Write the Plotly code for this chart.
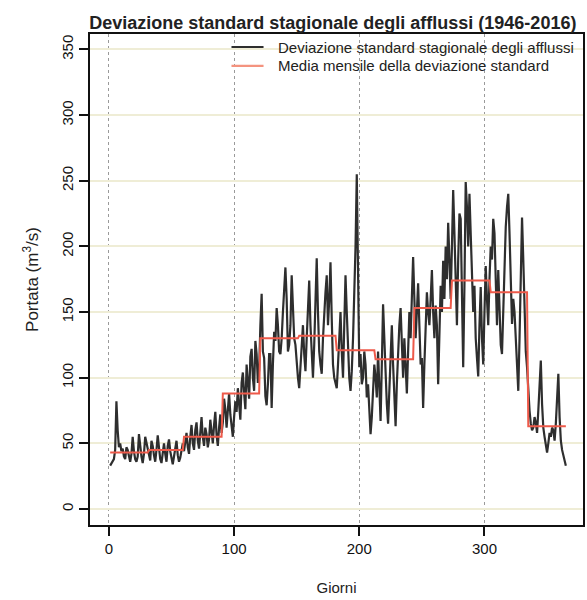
import numpy as np
import plotly.graph_objects as go

# Daily seasonal standard deviation
jan = [33, 35, 37, 38, 45, 82, 60, 47, 50, 44, 46, 40, 38, 47, 45, 40, 36, 42, 55, 44, 38, 36, 40, 57, 46, 40, 35, 42, 55, 50, 44]
feb = [40, 37, 52, 48, 41, 36, 45, 56, 47, 38, 35, 43, 50, 42, 36, 48, 53, 44, 37, 34, 40, 47, 52, 41, 36, 39, 46, 50]
mar = [44, 52, 58, 47, 42, 55, 64, 50, 45, 60, 66, 52, 46, 58, 70, 55, 48, 62, 57, 47, 53, 68, 60, 50, 64, 74, 56, 48, 62, 72, 58]
apr = [66, 84, 76, 62, 78, 88, 72, 60, 55, 70, 82, 74, 92, 80, 68, 96, 104, 88, 76, 110, 98, 84, 116, 122, 100, 90, 128, 118, 96, 106]
may = [140, 164, 120, 115, 86, 79, 95, 118, 118, 77, 110, 135, 128, 153, 140, 120, 118, 130, 150, 165, 184, 160, 120, 125, 140, 178, 150, 130, 125, 108, 100]
jun = [92, 110, 125, 140, 118, 105, 130, 150, 174, 140, 115, 100, 125, 160, 191, 150, 120, 110, 103, 130, 150, 165, 178, 140, 160, 188, 145, 110, 100, 95]
jul = [92, 110, 130, 150, 120, 100, 140, 178, 150, 120, 100, 90, 105, 130, 160, 200, 255, 170, 108, 118, 95, 100, 120, 110, 85, 95, 75, 57, 70, 90, 110]
aug = [100, 85, 120, 90, 67, 110, 156, 130, 100, 80, 65, 90, 120, 140, 110, 85, 63, 95, 125, 140, 153, 120, 100, 130, 110, 88, 120, 150, 130, 160, 192]
sep = [160, 130, 150, 172, 140, 110, 115, 77, 110, 140, 165, 150, 140, 160, 182, 150, 130, 155, 140, 95, 140, 170, 150, 189, 160, 200, 175, 218, 190, 160]
oct_ = [200, 243, 210, 170, 140, 190, 225, 221, 160, 108, 170, 249, 230, 200, 240, 214, 180, 150, 170, 130, 115, 101, 140, 169, 130, 110, 150, 185, 160, 140, 175]
nov = [200, 190, 221, 210, 160, 140, 182, 150, 125, 118, 150, 190, 215, 230, 240, 210, 170, 141, 160, 150, 130, 110, 90, 130, 180, 222, 190, 150, 120, 108]
dec = [90, 75, 65, 60, 62, 70, 66, 58, 75, 95, 113, 80, 62, 55, 48, 43, 50, 58, 55, 62, 60, 52, 65, 85, 103, 70, 52, 45, 40, 36, 33]

months = [jan, feb, mar, apr, may, jun, jul, aug, sep, oct_, nov, dec]
# Monthly mean of the standard deviation (red step line)
monthly_mean = [43, 45, 55, 88, 130, 132, 121, 114, 153, 174, 165, 63]

series_names = ["Deviazione standard stagionale degli afflussi",
                "Media mensile della deviazione standard"]
series_colors = ["#2e2e2e", "#ee5a4a"]

daily = np.concatenate([np.array(m, dtype=float) for m in months])
days = np.arange(1, len(daily) + 1)
month_len = [len(m) for m in months]
mean_daily = np.repeat(np.array(monthly_mean, dtype=float), month_len)

fig = go.Figure()
fig.add_trace(go.Scatter(
    x=days, y=daily, mode="lines",
    line=dict(color=series_colors[0], width=2.2),
    name=series_names[0], showlegend=False))
fig.add_trace(go.Scatter(
    x=days, y=mean_daily, mode="lines",
    line=dict(color=series_colors[1], width=2),
    name=series_names[1], showlegend=False))

# orange dotted reference lines seen on the scan
for yv in [0, 250]:
    fig.add_shape(type="line", xref="paper", x0=0, x1=1, yref="y", y0=yv, y1=yv,
                  line=dict(color="#f2ad80", width=1.3, dash="dot"), layer="below")

# legend drawn as line samples + text (R-style, no box)
leg_rows_y = [0.9735, 0.935]
leg_colors = [series_colors[0], "#f4937f"]
for name, col, yy in zip(series_names, leg_colors, leg_rows_y):
    fig.add_shape(type="line", xref="paper", yref="paper",
                  x0=0.287, x1=0.352, y0=yy, y1=yy,
                  line=dict(color=col, width=2.2))
    fig.add_annotation(xref="paper", yref="paper", x=0.378, y=yy,
                       xanchor="left", yanchor="middle", showarrow=False,
                       text=name, font=dict(size=15, color="#222"))

fig.update_layout(
    width=587, height=600,
    margin=dict(l=90, r=2, t=34, b=75),
    paper_bgcolor="white", plot_bgcolor="white",
    font=dict(family="Liberation Sans, Arial, sans-serif", color="#222", size=14),
    title=dict(text="<b>Deviazione standard stagionale degli afflussi (1946-2016)</b>",
               x=0.567, xanchor="center", y=0.963, yanchor="middle",
               font=dict(size=18, color="#222")),
    showlegend=False,
)
fig.update_xaxes(
    range=[-15.1, 378.7], tickvals=[0, 100, 200, 300],
    showline=True, linecolor="#111", linewidth=2, mirror=True,
    ticks="outside", ticklen=9, tickwidth=2, tickcolor="#111",
    showgrid=True, gridcolor="#9a9a9a", griddash="dot", gridwidth=1,
    zeroline=False,
    title=dict(text="Giorni", font=dict(size=15), standoff=26),
    tickfont=dict(size=15, color="#111"),
)
fig.update_yaxes(
    range=[-12.2, 361.8], tickvals=[0, 50, 100, 150, 200, 250, 300, 350],
    tickangle=-90,
    showline=True, linecolor="#111", linewidth=2, mirror=True,
    ticks="outside", ticklen=9, tickwidth=2, tickcolor="#111",
    showgrid=True, gridcolor="#efedd6", gridwidth=1.5,
    zeroline=False,
    title=dict(text="Portata (m<sup>3</sup>/s)", font=dict(size=17), standoff=16),
    tickfont=dict(size=15, color="#111"),
)

fig.write_html("out.html")
